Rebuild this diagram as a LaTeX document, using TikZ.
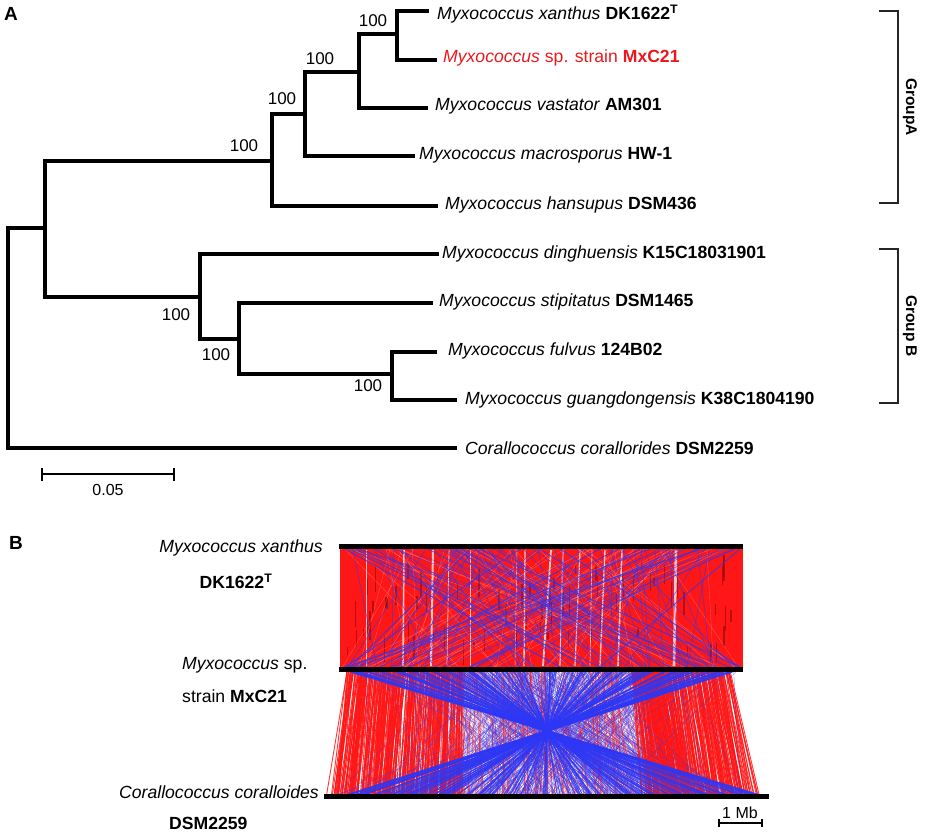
\documentclass[tikz,border=0pt]{standalone}
\usepackage{fontspec}
\setmainfont{Liberation Sans}
\definecolor{synred}{RGB}{255,22,22}
\definecolor{synblue}{RGB}{45,55,245}
\definecolor{labred}{RGB}{235,25,30}
\definecolor{darkred}{RGB}{140,10,10}
\begin{document}
\begin{tikzpicture}[x=1pt,y=-1pt,
  branch/.style={line width=3.4pt, line cap=rect},
  tiplab/.style={anchor=west, inner sep=0pt, font=\fontsize{17.6}{20}\selectfont},
  boot/.style={inner sep=0pt, font=\fontsize{17}{19}\selectfont},
  grp/.style={inner sep=0pt, rotate=-90, font=\fontsize{15.5}{18}\selectfont\bfseries},
  brack/.style={line width=1.1pt, black!85},
  panel/.style={inner sep=0pt, font=\fontsize{19}{22}\selectfont\bfseries},
  blab/.style={inner sep=0pt, font=\fontsize{17.6}{20}\selectfont},
  chrom/.style={line width=5pt, black}]
\useasboundingbox (0,0) rectangle (935,836);

% ---------------- Panel A: tree ----------------
\node[panel] (labA) at (11,14) {A};

% tips
\coordinate (tDK) at (427,11);
\coordinate (tMx) at (435,60);
\coordinate (tVa) at (426,108);
\coordinate (tMa) at (413,156);
\coordinate (tHa) at (436,206);
\coordinate (tDi) at (437,254);
\coordinate (tSt) at (431,303);
\coordinate (tFu) at (435,352);
\coordinate (tGu) at (455,400);
\coordinate (tCo) at (455,448);
% internal nodes
\coordinate (n1) at (397,34);
\coordinate (n2) at (359,72);
\coordinate (n3) at (305,114);
\coordinate (n4) at (272,161);
\coordinate (n5) at (45,228);
\coordinate (nB) at (200,297);
\coordinate (n6) at (239,339);
\coordinate (n7) at (392,374);
\coordinate (rt) at (8,340);

\draw[branch] (tDK) -| (n1) |- (tMx);
\draw[branch] (n1) -| (n2) |- (tVa);
\draw[branch] (n2) -| (n3) |- (tMa);
\draw[branch] (n3) -| (n4) |- (tHa);
\draw[branch] (n4) -| (n5) |- (nB);
\draw[branch] (tDi) -| (nB) |- (n6);
\draw[branch] (tSt) -| (n6) |- (n7);
\draw[branch] (tFu) -| (n7) |- (tGu);
\draw[branch] (n5) -| (rt) |- (tCo);

% bootstrap values
\node[boot] (b1) at (373,21) {100};
\node[boot] (b2) at (320,59) {100};
\node[boot] (b3) at (282,99) {100};
\node[boot] (b4) at (244,146) {100};
\node[boot] (b5) at (176,315) {100};
\node[boot] (b6) at (216,355) {100};
\node[boot] (b7) at (368,386) {100};

% tip labels
\node[tiplab] (lDK) at (437,14) {\textit{Myxococcus xanthus}\hspace{5pt}\textbf{DK1622\textsuperscript{T}}};
\node[tiplab, text=labred] (lMx) at (443,58) {\textit{Myxococcus} sp. strain \textbf{MxC21}};
\node[tiplab] (lVa) at (435,106) {\textit{Myxococcus vastator} \textbf{AM301}};
\node[tiplab] (lMa) at (419,155) {\textit{Myxococcus macrosporus} \textbf{HW-1}};
\node[tiplab] (lHa) at (445,205) {\textit{Myxococcus hansupus} \textbf{DSM436}};
\node[tiplab] (lDi) at (442,254) {\textit{Myxococcus dinghuensis} \textbf{K15C18031901}};
\node[tiplab] (lSt) at (439,302) {\textit{Myxococcus stipitatus} \textbf{DSM1465}};
\node[tiplab] (lFu) at (448,351) {\textit{Myxococcus fulvus} \textbf{124B02}};
\node[tiplab] (lGu) at (465,400) {\textit{Myxococcus guangdongensis} \textbf{K38C1804190}};
\node[tiplab] (lCo) at (465,448) {\textit{Corallococcus corallorides} \textbf{DSM2259}};

% group brackets
\draw[brack] (879,11) -| (898,203) -- (879,203);
\node[grp] (gA) at (910,107) {GroupA};
\draw[brack] (879,249) -| (898,403) -- (879,403);
\node[grp] (gB) at (910,326) {Group B};

% scale bar
\coordinate (sbL) at (42,474);
\coordinate (sbR) at (174,474);
\draw[line width=2.6pt] (sbL) -- (sbR);
\draw[line width=2.6pt] ([yshift=-6.5pt]sbL) -- ([yshift=6.5pt]sbL);
\draw[line width=2.6pt] ([yshift=-6.5pt]sbR) -- ([yshift=6.5pt]sbR);
\node[boot, font=\fontsize{16}{18}\selectfont] (sbT) at (108,490) {0.05};

% ---------------- Panel B: synteny ----------------
\node[panel] (labB) at (16,543) {B};

\pgfmathsetseed{12345}
% top block: mostly red
\fill[synred] (340,548) rectangle (743,668);
% dark red dashes
\foreach \i in {1,...,80}{
  \pgfmathsetmacro{\xx}{343+396*rnd}
  \pgfmathsetmacro{\yy}{552+95*rnd}
  \pgfmathsetmacro{\ll}{6+22*rnd}
  \draw[darkred, line width=1.3pt, opacity=0.6] (\xx,\yy) -- (\xx,\yy+\ll);
}
% white streaks
\foreach \xa/\xb/\w in {404/403/1.6, 433/431/2, 449/447/0.8, 525/524/1.3, 551/543/1.8, 563/560/1.2, 580/575/1.2, 605/600/1.4, 622/618/1.6, 676/674/2.6, 470/470/0.5, 517/515/0.5, 592/590/0.7, 366/366/0.6}{
  \draw[white, line width=\w pt, opacity=0.75] (\xa,550) -- (\xb,666);
}
% light pinkish lines
\foreach \i in {1,...,60}{
  \pgfmathsetmacro{\a}{342+398*rnd}
  \pgfmathsetmacro{\b}{342+398*rnd}
  \draw[white, line width=0.3pt, opacity=0.3] (\a,549) -- (\b,667);
}
% blue crossing lines
\foreach \i in {1,...,95}{
  \pgfmathsetmacro{\a}{342+398*rnd}
  \pgfmathsetmacro{\b}{342+398*rnd}
  \draw[synblue, line width=0.5pt, opacity=0.7] (\a,549) -- (\b,667);
}
\foreach \a/\b in {345/560, 350/590, 355/600, 480/740, 470/350, 520/345, 700/345, 735/470, 740/600, 560/740, 600/380, 650/350}{
  \draw[synblue, line width=0.9pt, opacity=0.8] (\a,549) -- (\b,667);
}

% bottom block: thin crosshatch (mostly central)
\foreach \i in {1,...,200}{
  \pgfmathsetmacro{\a}{420+260*rnd}
  \pgfmathsetmacro{\b}{420+290*rnd}
  \draw[synred, line width=0.35pt, opacity=0.5] (\a,670) -- (\b,796);
}
\foreach \i in {1,...,380}{
  \pgfmathsetmacro{\a}{400+300*rnd}
  \pgfmathsetmacro{\b}{400+330*rnd}
  \draw[synblue, line width=0.35pt, opacity=0.45] (\a,670) -- (\b,796);
}
% collinear red bands
\foreach \i in {1,...,300}{
  \pgfmathsetmacro{\u}{0.015+0.29*rnd}
  \pgfmathsetmacro{\a}{340+403*\u}
  \pgfmathsetmacro{\b}{324+445*\u+6*rand}
  \draw[synred, line width=0.9pt, opacity=0.85] (\a,670) -- (\b,796);
}
\foreach \i in {1,...,230}{
  \pgfmathsetmacro{\u}{0.72+0.25*rnd}
  \pgfmathsetmacro{\a}{340+403*\u}
  \pgfmathsetmacro{\b}{324+445*\u+6*rand}
  \draw[synred, line width=0.9pt, opacity=0.85] (\a,670) -- (\b,796);
}
% slanted red band on the right
\foreach \i in {1,...,50}{
  \pgfmathsetmacro{\a}{638+24*rnd}
  \pgfmathsetmacro{\b}{\a+26+6*rand}
  \draw[synred, line width=1pt, opacity=0.9] (\a,670) -- (\b,796);
}
% a few red bands in the middle
\foreach \i in {1,...,60}{
  \pgfmathsetmacro{\u}{0.3+0.42*rnd}
  \pgfmathsetmacro{\a}{340+403*\u}
  \pgfmathsetmacro{\b}{324+445*\u+10*rand}
  \draw[synred, line width=0.6pt, opacity=0.65] (\a,670) -- (\b,796);
}
% sparse blue across the sides
\foreach \i in {1,...,70}{
  \pgfmathsetmacro{\a}{345+395*rnd}
  \pgfmathsetmacro{\b}{330+435*rnd}
  \draw[synblue, line width=0.35pt, opacity=0.5] (\a,670) -- (\b,796);
}
% blue inversions through the centre
\foreach \i in {1,...,220}{
  \pgfmathsetmacro{\a}{346+392*rnd}
  \pgfmathsetmacro{\b}{547+(547-\a)*1.066+4*rand}
  \draw[synblue, line width=0.6pt, opacity=0.8] (\a,670) -- (\b,796);
}
\foreach \a in {345,352,362,392,430,470,505,600,650,690,725,737}{
  \pgfmathsetmacro{\b}{547+(547-\a)*1.066}
  \draw[synblue, line width=1.8pt, opacity=0.85] (\a,670) -- (\b,796);
}

% chromosomes
\draw[chrom] (339,546.5) -- (743,546.5);
\draw[chrom] (339,669.5) -- (743,669.5);
\draw[chrom] (324,796.5) -- (769,796.5);

% labels panel B
\node[blab, anchor=east] (bX1) at (323,548) {\textit{Myxococcus xanthus}};
\node[blab] (bX2) at (236,581) {\textbf{DK1622\textsuperscript{T}}};
\node[blab, anchor=west] (bM1) at (182,665) {\textit{Myxococcus} sp.};
\node[blab, anchor=west] (bM2) at (182,696) {strain \textbf{MxC21}};
\node[blab, anchor=east] (bC1) at (319,792) {\textit{Corallococcus coralloides}};
\node[blab, anchor=west] (bC2) at (169,823) {\textbf{DSM2259}};

% 1 Mb scale
\coordinate (mbL) at (719,823);
\coordinate (mbR) at (762,823);
\draw[line width=1.4pt] (mbL) -- (mbR);
\draw[line width=1.2pt] ([yshift=-4pt]mbL) -- ([yshift=4pt]mbL);
\draw[line width=1.2pt] ([yshift=-4pt]mbR) -- ([yshift=4pt]mbR);
\node[boot, font=\fontsize{16}{18}\selectfont] (mbT) at (740,813) {1 Mb};
\end{tikzpicture}
\end{document}
